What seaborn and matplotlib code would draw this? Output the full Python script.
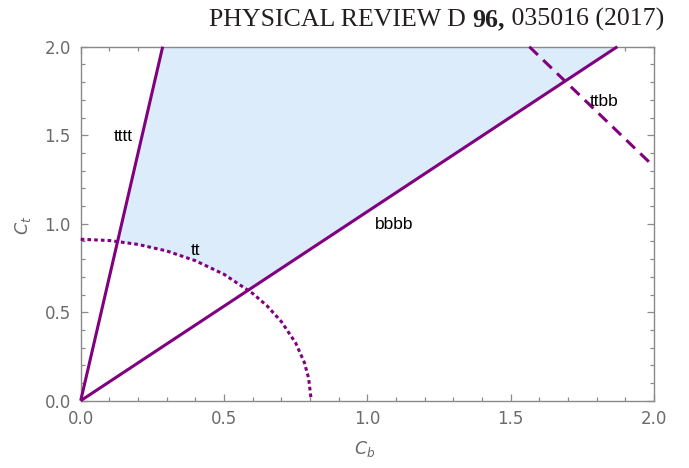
import numpy as np
import matplotlib
matplotlib.use("Agg")
import matplotlib.pyplot as plt
from matplotlib.ticker import MultipleLocator
import seaborn as sns

# ---- data ----
tttt_cb = [0.0, 0.286]
tttt_ct = [0.0, 2.0]
bbbb_cb = [0.0, 1.872]
bbbb_ct = [0.0, 2.0]
ttbb_cb = [1.565, 2.0]
ttbb_ct = [2.0, 1.322]
tt_cb = [0.0, 0.1, 0.2, 0.3, 0.4, 0.5, 0.6, 0.65, 0.7, 0.75, 0.78, 0.795, 0.803]
tt_ct = [0.912, 0.905, 0.883, 0.846, 0.791, 0.714, 0.606, 0.536, 0.447, 0.326, 0.217, 0.128, 0.02]

labels = ["tttt", "tt", "bbbb", "ttbb"]
label_cb = [0.148, 0.40, 1.094, 1.826]
label_ct = [1.49, 0.847, 0.993, 1.69]

header_parts = ["PHYSICAL REVIEW D ", "96,", " 035016 (2017)"]

PURPLE = "#800080"
FILL = "#dcecfb"
GRAY = "#6b6b6b"
SPINE = "#8a8a8a"

sns.set_theme(style="white")
plt.rcParams["font.family"] = ["DejaVu Sans"]

fig = plt.figure(figsize=(6.89, 4.68), dpi=100)
ax = fig.add_axes([80.7 / 689, 1 - 400.7 / 468, 573.3 / 689, 354 / 468])

# fill region (allowed region)
xg = np.linspace(0, 2, 4001)
up = np.minimum(np.interp(xg, tttt_cb, tttt_ct, right=np.inf), 2.0)
low_b = np.interp(xg, bbbb_cb, bbbb_ct)
low_e = np.interp(xg, tt_cb, tt_ct, right=0.0)
low = np.maximum(low_b, low_e)
ax.fill_between(xg, low, up, where=up > low, interpolate=True, color=FILL, lw=0, zorder=1)

lw = 2.2
sns.lineplot(x=tttt_cb, y=tttt_ct, ax=ax, color=PURPLE, lw=lw, sort=False, estimator=None, zorder=3)
sns.lineplot(x=bbbb_cb, y=bbbb_ct, ax=ax, color=PURPLE, lw=lw, sort=False, estimator=None, zorder=3)
sns.lineplot(x=ttbb_cb, y=ttbb_ct, ax=ax, color=PURPLE, lw=lw, sort=False, estimator=None, zorder=3)
ax.lines[-1].set_dashes((3.9, 2.4))
ax.lines[-1].set_dash_capstyle("butt")
sns.lineplot(x=tt_cb, y=tt_ct, ax=ax, color=PURPLE, lw=lw, sort=False, estimator=None, zorder=3)
ax.lines[-1].set_dashes((1.2, 1.0))
ax.lines[-1].set_dash_capstyle("butt")
for ln in ax.lines:
    ln.set_clip_on(False)
    ln.set_solid_capstyle("butt")

for t, x, y in zip(labels, label_cb, label_ct):
    ax.text(x, y, t, ha="center", va="center", fontsize=12.5,
            family=["Liberation Sans", "DejaVu Sans"], color="black", zorder=4)

ax.set_xlim(0, 2)
ax.set_ylim(0, 2)
for axis in (ax.xaxis, ax.yaxis):
    axis.set_major_locator(MultipleLocator(0.5))
    axis.set_minor_locator(MultipleLocator(0.1))
ax.xaxis.set_major_formatter(matplotlib.ticker.FormatStrFormatter("%.1f"))
ax.yaxis.set_major_formatter(matplotlib.ticker.FormatStrFormatter("%.1f"))
ax.tick_params(which="both", direction="in", top=True, right=True, bottom=True, left=True,
               color=SPINE, width=0.9, labelcolor=GRAY, labelsize=12)
ax.tick_params(which="major", length=4.8, pad=7)
ax.tick_params(which="minor", length=2.9)
for s in ax.spines.values():
    s.set_color(SPINE)
    s.set_linewidth(1.0)
    s.set_visible(True)

ax.set_xlabel("$C_b$", fontsize=12.5, color=GRAY)
ax.set_ylabel("$C_t$", fontsize=12.5, color=GRAY)
ax.xaxis.set_label_coords(0.496, -0.108)
ax.yaxis.set_label_coords(-0.084, 0.496)

# header
serif = ["Liberation Serif", "DejaVu Serif"]
hs = 18.6
base_y = 1 - 26 / 468
t1 = fig.text(209 / 689, base_y, header_parts[0], fontsize=hs, family=serif,
              color="#231f20", ha="left", va="baseline")
t2 = fig.text(0, 0, header_parts[1], fontsize=hs, family=serif, weight="bold", color="#231f20")
t3 = fig.text(0, 0, header_parts[2], fontsize=hs, family=serif, color="#231f20")
r = fig.canvas.get_renderer()
bb1 = t1.get_window_extent(r)
t2.set_position((bb1.x1 / fig.bbox.width, base_y))
t2.set_va("baseline")
bb2 = t2.get_window_extent(r)
t3.set_position((bb2.x1 / fig.bbox.width, base_y))
t3.set_va("baseline")

fig.savefig("out.png", dpi=100)
